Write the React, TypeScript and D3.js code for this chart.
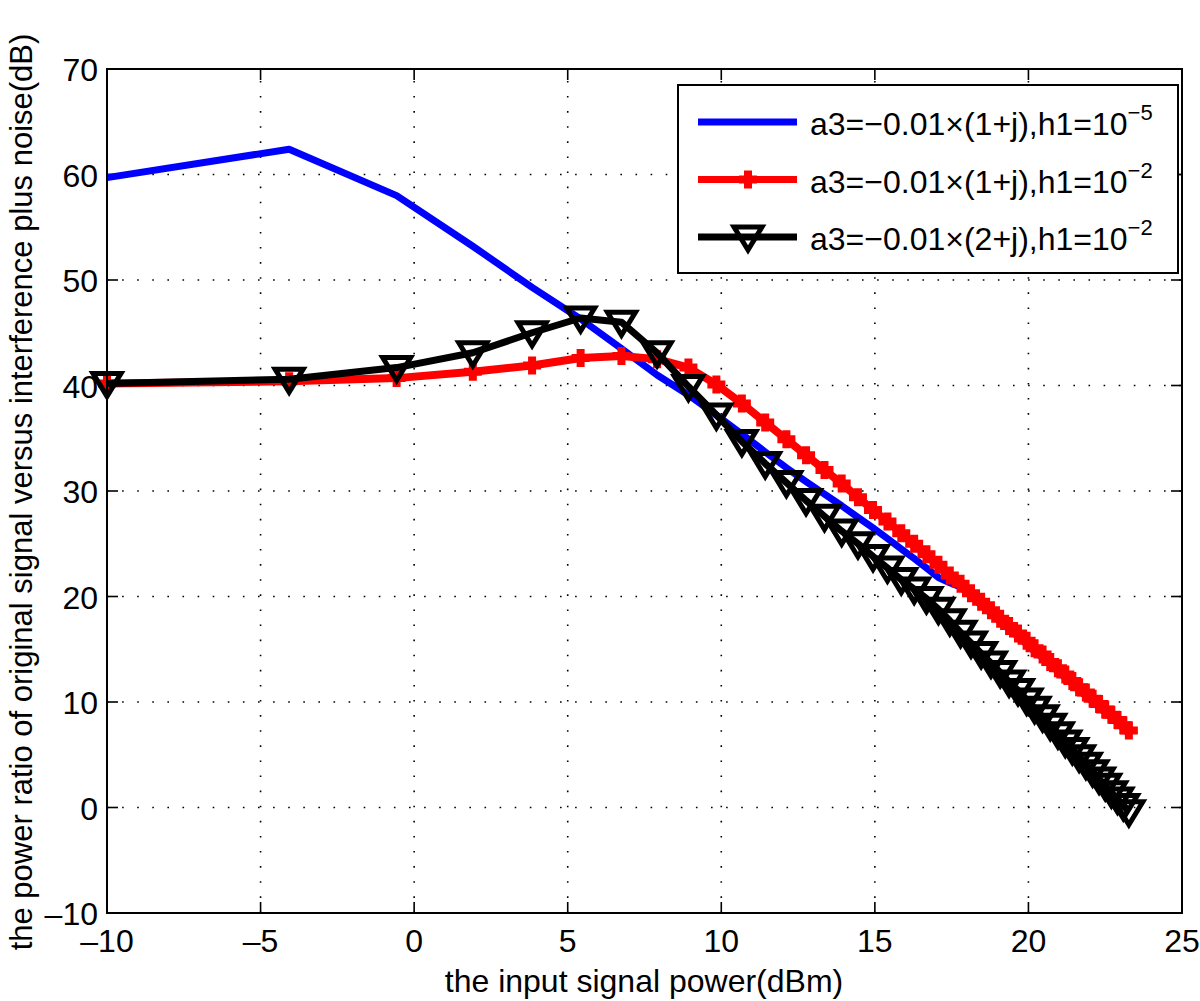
import React, { useEffect, useRef } from 'react';
import * as d3 from 'd3';

// input signal power (dBm), shared by all three curves
const inputPower = [
  -10.0, -4.07, -0.57, 1.91, 3.84, 5.42, 6.75, 7.91, 8.93, 9.84,
  10.67, 11.43, 12.12, 12.76, 13.36, 13.92, 14.45, 14.94, 15.41, 15.86,
  16.28, 16.68, 17.07, 17.44, 17.79, 18.13, 18.46, 18.78, 19.08, 19.37,
  19.66, 19.94, 20.2, 20.46, 20.71, 20.96, 21.2, 21.43, 21.65, 21.87,
  22.09, 22.3, 22.5, 22.7, 22.9, 23.09, 23.27,
];

// a3=-0.01x(1+j), h1=1e-5
const sinrBlue = [
  59.7, 62.4, 58.0, 53.2, 49.3, 46.3, 43.5, 41.0, 39.1, 37.2,
  35.4, 33.7, 32.2, 30.9, 29.7, 28.6, 27.5, 26.5, 25.5, 24.5,
  23.6, 22.7, 21.8, 21.3, 20.9, 20.0, 19.2, 18.4, 17.6, 16.9,
  16.2, 15.5, 14.8, 14.2, 13.5, 12.9, 12.3, 11.7, 11.1, 10.6,
  10.0, 9.5, 9.0, 8.5, 8.0, 7.5, 7.0,
];

// a3=-0.01x(1+j), h1=1e-2
const sinrRed = [
  40.2, 40.4, 40.7, 41.3, 41.9, 42.6, 42.8, 42.5, 41.7, 40.1,
  38.3, 36.5, 34.9, 33.4, 32.0, 30.7, 29.4, 28.2, 27.1, 26.0,
  25.0, 24.0, 23.0, 22.0, 21.2, 20.3, 19.5, 18.7, 17.9, 17.2,
  16.5, 15.8, 15.1, 14.5, 13.8, 13.2, 12.6, 12.0, 11.4, 10.9,
  10.3, 9.8, 9.3, 8.8, 8.3, 7.8, 7.3,
];

// a3=-0.01x(2+j), h1=1e-2
const sinrBlack = [
  40.2, 40.6, 41.7, 43.1, 45.0, 46.4, 46.0, 43.1, 39.9, 37.2,
  34.7, 32.6, 30.8, 29.1, 27.6, 26.2, 25.0, 23.8, 22.7, 21.6,
  20.7, 19.8, 18.8, 17.7, 16.6, 15.6, 14.6, 13.7, 12.8, 11.9,
  11.1, 10.2, 9.4, 8.6, 7.8, 7.0, 6.2, 5.5, 4.8, 4.1,
  3.4, 2.7, 2.1, 1.4, 0.8, 0.2, -0.4,
];

const xTicks = [-10, -5, 0, 5, 10, 15, 20, 25];
const yTicks = [-10, 0, 10, 20, 30, 40, 50, 60, 70];

const legendLabels = [
  { text: 'a3=\u22120.01\u00d7(1+j),h1=10', sup: '\u22125', color: '#0000ff', marker: 'none' },
  { text: 'a3=\u22120.01\u00d7(1+j),h1=10', sup: '\u22122', color: '#ff0000', marker: 'plus' },
  { text: 'a3=\u22120.01\u00d7(2+j),h1=10', sup: '\u22122', color: '#000000', marker: 'tri' },
];

const FONT = '"Liberation Sans", Arial, Helvetica, sans-serif';
const plusPath = 'M-9,0H9M0,-9V9';
const triPath = 'M-14,-10L14,-10L0,13Z';

const fmt = (d: number) => (d < 0 ? '\u2013' + Math.abs(d) : String(d));

const Chart = () => {
  const svgRef = useRef<SVGSVGElement>(null);

  useEffect(() => {
    const width = 1200;
    const height = 1001;
    const left = 107, right = 1182, top = 69, bottom = 913;

    const svg = d3.select(svgRef.current)
      .attr('width', width)
      .attr('height', height);
    svg.selectAll('*').remove();

    const x = d3.scaleLinear().domain([-10, 25]).range([left, right]);
    const y = d3.scaleLinear().domain([-10, 70]).range([bottom, top]);

    svg.append('rect').attr('width', width).attr('height', height).attr('fill', '#fff');

    // grid
    const grid = svg.append('g').attr('stroke', '#000').attr('stroke-width', 1.6)
      .attr('stroke-dasharray', '1.6,13.5');
    grid.selectAll('.gx').data(xTicks.slice(1, -1)).enter().append('line')
      .attr('x1', d => x(d)).attr('x2', d => x(d)).attr('y1', bottom).attr('y2', top);
    grid.selectAll('.gy').data(yTicks.slice(1, -1)).enter().append('line')
      .attr('y1', d => y(d)).attr('y2', d => y(d)).attr('x1', left).attr('x2', right);

    // ticks (inward, all four sides)
    const ticks = svg.append('g').attr('stroke', '#000').attr('stroke-width', 1.6);
    xTicks.forEach(t => {
      ticks.append('line').attr('x1', x(t)).attr('x2', x(t)).attr('y1', bottom).attr('y2', bottom - 11);
      ticks.append('line').attr('x1', x(t)).attr('x2', x(t)).attr('y1', top).attr('y2', top + 11);
    });
    yTicks.forEach(t => {
      ticks.append('line').attr('y1', y(t)).attr('y2', y(t)).attr('x1', left).attr('x2', left + 11);
      ticks.append('line').attr('y1', y(t)).attr('y2', y(t)).attr('x1', right).attr('x2', right - 11);
    });

    const line = (vals: number[]) => d3.line<number>()
      .x((_, i) => x(inputPower[i]))
      .y(d => y(d))(vals);

    const plot = svg.append('g');
    plot.append('path').attr('d', line(sinrBlue)).attr('fill', 'none')
      .attr('stroke', '#0000ff').attr('stroke-width', 7).attr('stroke-linejoin', 'round');

    plot.append('path').attr('d', line(sinrRed)).attr('fill', 'none')
      .attr('stroke', '#ff0000').attr('stroke-width', 8).attr('stroke-linejoin', 'round');
    plot.selectAll('.rm').data(sinrRed).enter().append('path')
      .attr('d', plusPath)
      .attr('transform', (d, i) => `translate(${x(inputPower[i])},${y(d)})`)
      .attr('stroke', '#ff0000').attr('stroke-width', 8).attr('fill', 'none');

    plot.append('path').attr('d', line(sinrBlack)).attr('fill', 'none')
      .attr('stroke', '#000').attr('stroke-width', 7).attr('stroke-linejoin', 'round');
    plot.selectAll('.bm').data(sinrBlack).enter().append('path')
      .attr('d', triPath)
      .attr('transform', (d, i) => `translate(${x(inputPower[i])},${y(d)})`)
      .attr('stroke', '#000').attr('stroke-width', 5).attr('fill', 'none')
      .attr('stroke-linejoin', 'miter');

    // axes box
    svg.append('rect').attr('x', left).attr('y', top)
      .attr('width', right - left).attr('height', bottom - top)
      .attr('fill', 'none').attr('stroke', '#000').attr('stroke-width', 2);

    // tick labels
    svg.append('g').selectAll('text').data(xTicks).enter().append('text')
      .attr('x', d => x(d)).attr('y', 952)
      .attr('text-anchor', 'middle')
      .attr('font-family', FONT).attr('font-size', 32)
      .text(fmt);
    svg.append('g').selectAll('text').data(yTicks).enter().append('text')
      .attr('x', 98).attr('y', d => y(d) + 12)
      .attr('text-anchor', 'end')
      .attr('font-family', FONT).attr('font-size', 32)
      .text(fmt);

    // axis titles
    svg.append('text').attr('x', 644).attr('y', 992)
      .attr('text-anchor', 'middle').attr('font-family', FONT).attr('font-size', 32)
      .text('the input signal power(dBm)');
    svg.append('text')
      .attr('transform', `translate(32,${492}) rotate(-90)`)
      .attr('text-anchor', 'middle').attr('font-family', FONT).attr('font-size', 31)
      .text('the power ratio of original signal versus interference plus noise(dB)');

    // legend
    const lg = svg.append('g');
    lg.append('rect').attr('x', 678).attr('y', 85).attr('width', 500).attr('height', 188)
      .attr('fill', '#fff').attr('stroke', '#000').attr('stroke-width', 2);
    legendLabels.forEach((item, i) => {
      const cy = 122 + i * 57.5;
      lg.append('line').attr('x1', 698).attr('x2', 797).attr('y1', cy).attr('y2', cy)
        .attr('stroke', item.color).attr('stroke-width', 7);
      if (item.marker === 'plus') {
        lg.append('path').attr('d', plusPath).attr('transform', `translate(748,${cy})`)
          .attr('stroke', item.color).attr('stroke-width', 8).attr('fill', 'none');
      }
      if (item.marker === 'tri') {
        lg.append('path').attr('d', triPath).attr('transform', `translate(748,${cy})`)
          .attr('stroke', item.color).attr('stroke-width', 5).attr('fill', 'none');
      }
      const t = lg.append('text').attr('x', 810).attr('y', cy + 13)
        .attr('font-family', FONT).attr('font-size', 32);
      t.append('tspan').text(item.text);
      t.append('tspan').attr('dy', -15).attr('font-size', 22).text(item.sup);
    });
  }, []);

  return <svg ref={svgRef} style={{ position: 'absolute', left: 0, top: 0 }}></svg>;
};

export default function App() {
  return <Chart />;
}
